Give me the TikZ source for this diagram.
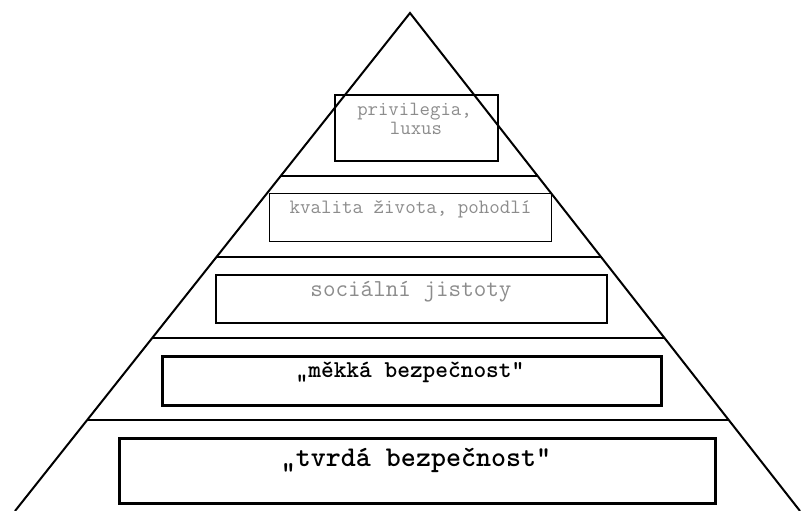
\documentclass[tikz,border=0pt]{standalone}
\usetikzlibrary{calc}
\usepackage{fontspec}
\newfontfamily\typebold{Latin Modern Mono Light}
\definecolor{lightink}{HTML}{8C8C8C}
\begin{document}
\begin{tikzpicture}[x=1pt,y=-1pt,
  side/.style={line width=2pt},
  tier/.style={line width=#1},
  frame/.style={draw, line width=#1, inner sep=0pt, anchor=north west},
  lbl/.style={inner sep=0pt, anchor=mid},
  soft/.style={lbl, text=lightink, font=\ttfamily\fontsize{#1}{#1}\selectfont},
  hard/.style={lbl, text=black, font=\typebold\bfseries\fontsize{#1}{#1}\selectfont}
]
\useasboundingbox (0,0) rectangle (801,511);
% triangle
\coordinate (apex) at (410,13);
\coordinate (bl) at (15,511);
\coordinate (br) at (800,511);
\draw[side] (bl) -- (apex) -- (br);
% tier lines
\draw[tier=1.5pt] ($(apex)!0.3273!(bl)$) -- ($(apex)!0.3273!(br)$);
\draw[tier=1.8pt] ($(apex)!0.4900!(bl)$) -- ($(apex)!0.4900!(br)$);
\draw[tier=1.5pt] ($(apex)!0.6526!(bl)$) -- ($(apex)!0.6526!(br)$);
\draw[tier=1.3pt] ($(apex)!0.8173!(bl)$) -- ($(apex)!0.8173!(br)$);
% boxes
\node[frame=1.8pt, minimum width=163pt, minimum height=66pt] (bpriv) at (334,94) {};
\node[frame=1.3pt, minimum width=282pt, minimum height=48pt] (bkval) at (269,193) {};
\node[frame=2.2pt, minimum width=391pt, minimum height=48pt] (bsoc) at (215,274) {};
\node[frame=2.5pt, minimum width=499pt, minimum height=49pt] (bmek) at (161,355) {};
\node[frame=2.5pt, minimum width=596pt, minimum height=65pt] (btvr) at (118,437) {};
% texts
\node[soft=20.2] (tpriv1) at (414.5,113) {privilegia,};
\node[soft=20.2] (tpriv2) at (416,132) {luxus};
\node[soft=20.4] (tkval) at (410.5,211) {kvalita života, pohodlí};
\node[soft=24.4] (tsoc) at (411,294) {sociální jistoty};
\node[hard=24.2] (tmek) at (410,375) {„měkká bezpečnost“};
\node[hard=28.6] (ttvr) at (416,464) {„tvrdá bezpečnost“};
\end{tikzpicture}
\end{document}
